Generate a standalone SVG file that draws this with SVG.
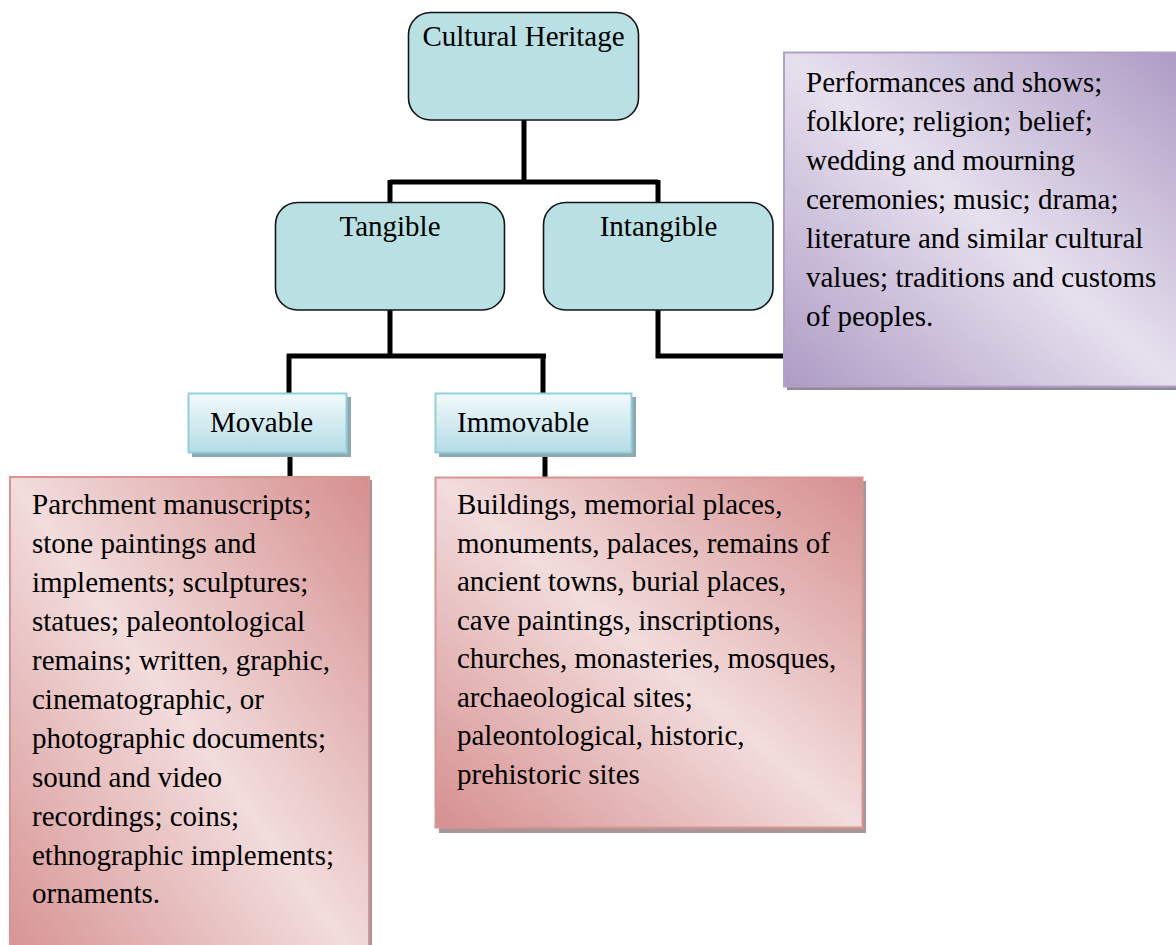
<svg xmlns="http://www.w3.org/2000/svg" width="1176" height="945" viewBox="0 0 1176 945">
<defs>
<linearGradient id="pink" x1="1" y1="0" x2="0" y2="1">
<stop offset="0" stop-color="#d68f8f"/>
<stop offset="0.5" stop-color="#f2dcdc"/>
<stop offset="1" stop-color="#d68f8f"/>
</linearGradient>
<linearGradient id="purple" x1="1" y1="0" x2="0" y2="1">
<stop offset="0" stop-color="#ae9bc4"/>
<stop offset="0.5" stop-color="#e6e0ee"/>
<stop offset="1" stop-color="#ae9bc4"/>
</linearGradient>
<linearGradient id="blue" x1="0" y1="0" x2="0" y2="1">
<stop offset="0" stop-color="#f2fafc"/>
<stop offset="1" stop-color="#b4dce5"/>
</linearGradient>
</defs>
<style>
text{font-family:"Liberation Serif","Times New Roman",serif;font-size:29px;fill:#000}
.top{fill:#b9e0e3;stroke:#141414;stroke-width:1.6}
.lbl{fill:url(#blue);stroke:#92cfdc;stroke-width:2}
.lblsh{fill:#8fa9b1}
.pk{fill:url(#pink);stroke:#d99594;stroke-width:2}
.pksh{fill:#a89595}
.pu{fill:url(#purple);stroke:#b2a1c7;stroke-width:2}
.push{fill:#8f8a9c}
.conn{fill:none;stroke:#000;stroke-width:5}
</style>
<g id="connectors">
<path class="conn" d="M524 120 V182 M390 182 H658 M390 180 V202 M658 180 V202"/>
<path class="conn" d="M390 310 V356 M287 356 H546 M289 354 V393 M543 354 V393"/>
<path class="conn" d="M658 309 V356 H783"/>
<path class="conn" d="M290 453 V477 M545 453 V477"/>
</g>
<g id="cultural-heritage">
<rect class="top" x="408.5" y="12.5" width="230" height="107.5" rx="22"/>
<text x="523.5" y="46" text-anchor="middle">Cultural Heritage</text>
</g>
<g id="tangible">
<rect class="top" x="275.5" y="202.5" width="229" height="107.5" rx="22"/>
<text x="390" y="236" text-anchor="middle">Tangible</text>
</g>
<g id="intangible">
<rect class="top" x="543.5" y="202.5" width="229.5" height="107.5" rx="22"/>
<text x="658.5" y="236" text-anchor="middle">Intangible</text>
</g>
<g id="intangible-details">
<rect class="push" x="787" y="56" width="395" height="334"/>
<rect class="pu" x="784" y="52.5" width="398" height="334"/>
<text x="806" y="92">Performances and shows;</text>
<text x="806" y="131">folklore; religion; belief;</text>
<text x="806" y="170">wedding and mourning</text>
<text x="806" y="209">ceremonies; music; drama;</text>
<text x="806" y="248">literature and similar cultural</text>
<text x="806" y="287">values; traditions and customs</text>
<text x="806" y="326">of peoples.</text>
</g>
<g id="movable">
<rect class="lblsh" x="192" y="397" width="159" height="60"/>
<rect class="lbl" x="188.5" y="393.5" width="158" height="59"/>
<text x="210" y="432">Movable</text>
</g>
<g id="immovable">
<rect class="lblsh" x="439" y="397" width="197" height="60"/>
<rect class="lbl" x="435.5" y="393.5" width="196" height="59"/>
<text x="457" y="432">Immovable</text>
</g>
<g id="movable-details">
<rect class="pksh" x="13" y="480" width="359" height="500"/>
<rect class="pk" x="10" y="477" width="359" height="500"/>
<text x="32" y="514">Parchment manuscripts;</text>
<text x="32" y="553">stone paintings and</text>
<text x="32" y="592">implements; sculptures;</text>
<text x="32" y="631">statues; paleontological</text>
<text x="32" y="670">remains; written, graphic,</text>
<text x="32" y="709">cinematographic, or</text>
<text x="32" y="748">photographic documents;</text>
<text x="32" y="787">sound and video</text>
<text x="32" y="826">recordings; coins;</text>
<text x="32" y="865">ethnographic implements;</text>
<text x="32" y="903">ornaments.</text>
</g>
<g id="immovable-details">
<rect class="pksh" x="439" y="481" width="427" height="352"/>
<rect class="pk" x="435.5" y="477.5" width="427" height="350"/>
<text x="457" y="514">Buildings, memorial places,</text>
<text x="457" y="552.5">monuments, palaces, remains of</text>
<text x="457" y="591">ancient towns, burial places,</text>
<text x="457" y="629.5">cave paintings, inscriptions,</text>
<text x="457" y="668">churches, monasteries, mosques,</text>
<text x="457" y="706.5">archaeological sites;</text>
<text x="457" y="745">paleontological, historic,</text>
<text x="457" y="783.5">prehistoric sites</text>
</g>
</svg>
